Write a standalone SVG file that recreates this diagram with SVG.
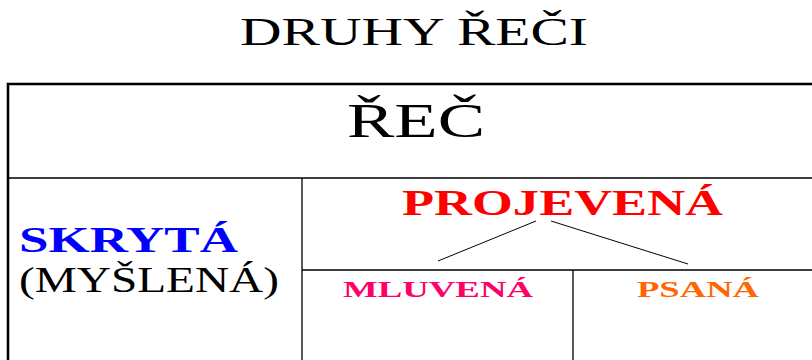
<svg xmlns="http://www.w3.org/2000/svg" width="812" height="360" viewBox="0 0 812 360">
<style>
text{font-family:"Liberation Serif","Times New Roman",serif;}
.b{font-weight:bold;}
.grid{stroke:#000;stroke-width:1.3;fill:none;}
.frame{stroke:#000;stroke-width:2.6;fill:none;}
.conn{stroke:#000;stroke-width:1;fill:none;}
</style>
<rect width="812" height="360" fill="#fff"/>
<g id="table">
<path class="frame" d="M8,360 V84 H812"/>
<path class="grid" d="M8,178 H812 M302,178 V360 M302,270 H812 M573,270 V360"/>
</g>
<g id="title"><text x="240" y="45" font-size="40" textLength="348" lengthAdjust="spacingAndGlyphs">DRUHY ŘEČI</text></g>
<g id="rec"><text x="347" y="137" font-size="48" textLength="138" lengthAdjust="spacingAndGlyphs">ŘEČ</text></g>
<g id="skryta">
<text class="b" x="19" y="252" font-size="35" fill="#0000FF" textLength="219" lengthAdjust="spacingAndGlyphs">SKRYTÁ</text>
<text x="19" y="292" font-size="35" textLength="260" lengthAdjust="spacingAndGlyphs">(MYŠLENÁ)</text>
</g>
<g id="projevena"><text class="b" x="402" y="215" font-size="36" fill="#FF0000" textLength="321" lengthAdjust="spacingAndGlyphs">PROJEVENÁ</text></g>
<g id="mluvena"><text class="b" x="343" y="297" font-size="24" fill="#FF0066" textLength="190" lengthAdjust="spacingAndGlyphs">MLUVENÁ</text></g>
<g id="psana"><text class="b" x="637" y="297" font-size="24" fill="#FF6600" textLength="122" lengthAdjust="spacingAndGlyphs">PSANÁ</text></g>
<g id="connectors">
<line class="conn" x1="536" y1="221" x2="438" y2="261"/>
<line class="conn" x1="551" y1="221" x2="688" y2="264"/>
</g>
</svg>
